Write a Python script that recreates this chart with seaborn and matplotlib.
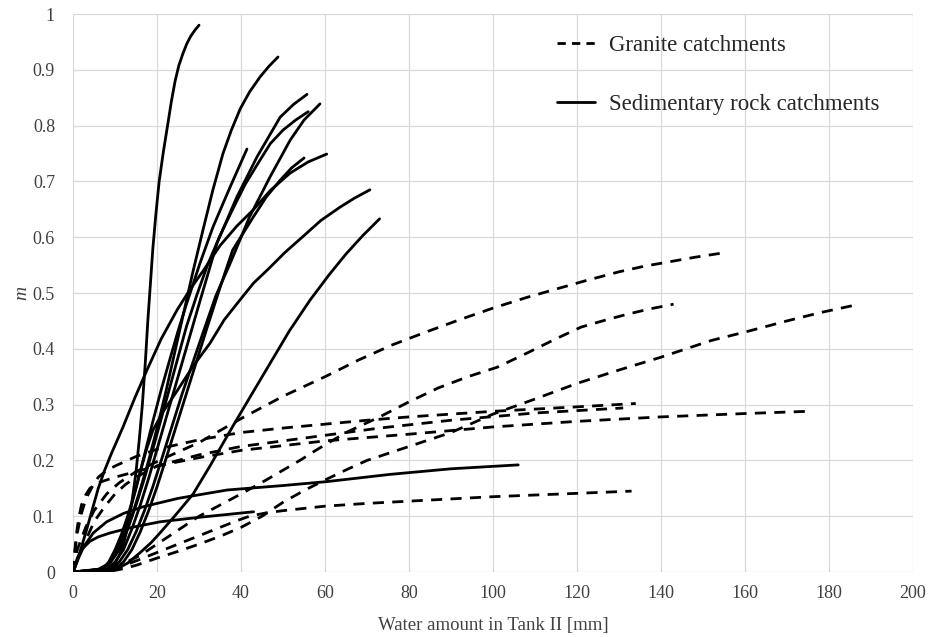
import matplotlib
matplotlib.use("Agg")
import matplotlib.pyplot as plt
import seaborn as sns
from matplotlib.lines import Line2D

# granite catchments (dashed)
gran_1_x = [0, 1, 3, 5, 8, 11, 15, 22, 30, 40, 50, 60, 68, 76, 84, 92, 100, 108, 115, 122, 130, 136, 142, 148, 154]
gran_1_m = [0, 0.04, 0.08, 0.11, 0.14, 0.16, 0.18, 0.205, 0.232, 0.275, 0.315, 0.35, 0.38, 0.407, 0.43, 0.452, 0.473, 0.492, 0.507, 0.522, 0.538, 0.548, 0.556, 0.564, 0.571]
gran_2_x = [0, 8, 12, 16, 20, 25, 30, 35, 40, 46, 54, 58, 65, 73, 80, 87, 94, 101, 108, 115, 121, 127, 132, 137, 143]
gran_2_m = [0, 0, 0.015, 0.03, 0.05, 0.075, 0.1, 0.12, 0.14, 0.165, 0.2, 0.219, 0.25, 0.278, 0.305, 0.33, 0.35, 0.367, 0.392, 0.418, 0.439, 0.452, 0.462, 0.471, 0.48]
gran_3_x = [0, 8, 12, 15, 20, 25, 30, 35, 40, 45, 50, 55, 60, 65, 70, 80, 90, 100, 110, 120, 130, 140, 152, 160, 170, 178, 186]
gran_3_m = [0, 0, 0.006, 0.012, 0.025, 0.037, 0.05, 0.064, 0.08, 0.1, 0.125, 0.146, 0.165, 0.183, 0.2, 0.225, 0.25, 0.283, 0.31, 0.338, 0.362, 0.385, 0.415, 0.43, 0.45, 0.465, 0.478]
gran_4_x = [0, 0.5, 1, 2, 3, 4.5, 6, 8, 10, 15, 20, 30, 40, 50, 60, 70, 80, 90, 100, 110, 120, 134]
gran_4_m = [0, 0.04, 0.07, 0.105, 0.13, 0.152, 0.17, 0.182, 0.19, 0.207, 0.22, 0.237, 0.25, 0.258, 0.265, 0.272, 0.278, 0.283, 0.288, 0.292, 0.296, 0.302]
gran_5_x = [0, 1, 2, 3.5, 5, 7.5, 10, 12.5, 15, 20, 25, 30, 40, 50, 60, 73, 90, 110, 131]
gran_5_m = [0, 0.02, 0.04, 0.065, 0.09, 0.117, 0.14, 0.157, 0.17, 0.19, 0.2, 0.21, 0.225, 0.235, 0.245, 0.258, 0.272, 0.285, 0.294]
gran_6_x = [0, 0.5, 1, 1.5, 2, 3, 4, 6, 10, 15, 20, 30, 40, 60, 80, 100, 120, 140, 160, 175]
gran_6_m = [0, 0.045, 0.08, 0.102, 0.12, 0.138, 0.15, 0.16, 0.17, 0.18, 0.19, 0.205, 0.218, 0.235, 0.247, 0.26, 0.27, 0.278, 0.284, 0.288]
gran_7_x = [0, 8, 11, 15, 20, 25, 30, 35, 39, 42, 46, 50, 60, 70, 80, 90, 100, 110, 120, 133]
gran_7_m = [0, 0, 0.008, 0.02, 0.035, 0.05, 0.065, 0.08, 0.092, 0.1, 0.106, 0.11, 0.118, 0.123, 0.127, 0.131, 0.135, 0.138, 0.141, 0.145]

# sedimentary rock catchments (solid)
sed_1_x = [0, 4, 8, 10, 11, 12, 13, 14, 15, 15.8, 16.5, 17.2, 17.8, 18.4, 19, 19.7, 20.5, 21.5, 22.5, 23.4, 24.3, 25.2, 26.2, 27.1, 28, 29, 30]
sed_1_m = [0, 0.001, 0.005, 0.016, 0.03, 0.05, 0.08, 0.125, 0.18, 0.24, 0.3, 0.375, 0.45, 0.515, 0.58, 0.64, 0.7, 0.753, 0.8, 0.843, 0.88, 0.908, 0.93, 0.947, 0.96, 0.971, 0.98]
sed_2_x = [0, 6, 8, 10, 12, 14, 16, 18, 20, 22, 25, 28.6, 31, 33.3, 35.7, 37.7, 39.8, 42, 44.5, 46.6, 48.8]
sed_2_m = [0, 0.005, 0.013, 0.03, 0.06, 0.1, 0.148, 0.2, 0.258, 0.32, 0.42, 0.54, 0.615, 0.685, 0.75, 0.792, 0.83, 0.86, 0.887, 0.906, 0.923]
sed_3_x = [0, 8, 10, 12, 14, 16, 18, 20, 22.5, 25, 27.5, 30, 34.3, 39, 43.8, 49.3, 52.5, 55.7]
sed_3_m = [0, 0.005, 0.018, 0.04, 0.077, 0.12, 0.168, 0.22, 0.285, 0.35, 0.415, 0.48, 0.59, 0.672, 0.744, 0.815, 0.838, 0.856]
sed_4_x = [0, 9, 11, 13, 15, 17, 19, 21, 23.5, 26, 28.5, 31, 34, 37.4, 42, 46.9, 51.7, 55, 58.8]
sed_4_m = [0, 0.005, 0.018, 0.04, 0.072, 0.11, 0.153, 0.2, 0.26, 0.32, 0.375, 0.43, 0.495, 0.553, 0.636, 0.708, 0.774, 0.81, 0.839]
sed_5_x = [0, 7, 9, 11, 13, 15, 17, 19, 21, 23, 25, 27, 29.5, 32, 35, 38, 41, 44.5, 47, 50, 53, 56]
sed_5_m = [0, 0.005, 0.018, 0.04, 0.077, 0.12, 0.168, 0.22, 0.275, 0.33, 0.385, 0.44, 0.497, 0.55, 0.603, 0.65, 0.695, 0.738, 0.768, 0.792, 0.81, 0.825]
sed_6_x = [0, 7, 9, 11, 13, 15, 17, 19, 21, 23, 25, 27, 30.2, 33.3, 35.4, 37.4, 39.4, 41.4]
sed_6_m = [0, 0.005, 0.02, 0.05, 0.095, 0.15, 0.21, 0.27, 0.327, 0.38, 0.432, 0.48, 0.553, 0.618, 0.655, 0.69, 0.724, 0.758]
sed_7_x = [0, 10, 12, 14, 16, 18, 20, 22, 24.5, 27, 29.5, 32, 35, 38, 42.9, 46, 49.3, 52, 55]
sed_7_m = [0, 0.005, 0.018, 0.04, 0.072, 0.11, 0.153, 0.2, 0.26, 0.32, 0.38, 0.44, 0.51, 0.577, 0.636, 0.672, 0.702, 0.724, 0.742]
sed_8_x = [0, 1, 2, 3, 4.5, 6, 7.5, 9, 11.9, 14.7, 17.6, 21, 24.8, 28, 31, 35, 39, 42.9, 47, 51.7, 56, 60.4]
sed_8_m = [0, 0.02, 0.045, 0.07, 0.11, 0.15, 0.182, 0.21, 0.26, 0.312, 0.362, 0.418, 0.47, 0.508, 0.54, 0.585, 0.62, 0.649, 0.684, 0.715, 0.735, 0.749]
sed_9_x = [0, 7, 8.5, 10, 11.5, 13, 14.5, 16, 17.5, 19, 21.5, 24.8, 28.5, 32.6, 36, 40, 43, 46.5, 50.5, 55, 59, 63.6, 67, 70.7]
sed_9_m = [0, 0.005, 0.018, 0.04, 0.067, 0.1, 0.138, 0.18, 0.22, 0.254, 0.288, 0.325, 0.368, 0.41, 0.452, 0.49, 0.518, 0.543, 0.573, 0.603, 0.63, 0.654, 0.67, 0.685]
sed_10_x = [0, 8, 10.5, 13, 16, 18.5, 20.7, 24.5, 28.6, 32.6, 38.1, 42.5, 47, 51.5, 56.4, 61, 65, 69, 73]
sed_10_m = [0, 0, 0.006, 0.016, 0.035, 0.052, 0.07, 0.103, 0.14, 0.19, 0.262, 0.318, 0.375, 0.432, 0.487, 0.533, 0.57, 0.603, 0.633]
sed_11_x = [0, 1, 2.5, 4.8, 8, 12, 16.7, 25, 36.7, 50, 60.4, 75.5, 90, 106]
sed_11_m = [0, 0.02, 0.045, 0.07, 0.09, 0.105, 0.117, 0.132, 0.147, 0.155, 0.162, 0.175, 0.185, 0.192]
sed_12_x = [0, 1, 2, 4, 6, 8.8, 14, 20.7, 30, 43]
sed_12_m = [0, 0.025, 0.04, 0.055, 0.063, 0.07, 0.08, 0.09, 0.098, 0.108]

granite = [(gran_1_x, gran_1_m), (gran_2_x, gran_2_m), (gran_3_x, gran_3_m),
           (gran_4_x, gran_4_m), (gran_5_x, gran_5_m), (gran_6_x, gran_6_m),
           (gran_7_x, gran_7_m)]
sediment = [(sed_1_x, sed_1_m), (sed_2_x, sed_2_m), (sed_3_x, sed_3_m),
            (sed_4_x, sed_4_m), (sed_5_x, sed_5_m), (sed_6_x, sed_6_m),
            (sed_7_x, sed_7_m), (sed_8_x, sed_8_m), (sed_9_x, sed_9_m),
            (sed_10_x, sed_10_m), (sed_11_x, sed_11_m), (sed_12_x, sed_12_m)]

sns.set_theme(style="whitegrid")
plt.rcParams['font.family'] = ['Liberation Serif', 'DejaVu Serif']

fig = plt.figure(figsize=(9.49, 6.37), dpi=100)
ax = fig.add_axes([0.077, 0.102, 0.885, 0.876])

for gx, gm in granite:
    sns.lineplot(x=gx, y=gm, ax=ax, color='black', linewidth=2.0,
                 estimator=None, sort=False)
    ax.lines[-1].set_dashes((4, 3))
for sx, sm in sediment:
    sns.lineplot(x=sx, y=sm, ax=ax, color='black', linewidth=2.0,
                 estimator=None, sort=False)

ax.set_xlim(0, 200)
ax.set_ylim(0, 1)
ax.set_xticks(range(0, 201, 20))
ax.set_yticks([i / 10 for i in range(11)])
ax.set_yticklabels(['0', '0.1', '0.2', '0.3', '0.4', '0.5', '0.6', '0.7', '0.8', '0.9', '1'])
ax.grid(True, color='#d9d9d9', linewidth=0.9)
for s in ax.spines.values():
    s.set_visible(False)
ax.tick_params(axis='both', labelsize=13, colors='#404040', length=0)
ax.tick_params(axis='x', pad=9)
ax.tick_params(axis='y', pad=13)
ax.set_xlabel('Water amount in Tank II [mm]', fontsize=13.5, color='#404040', labelpad=11)
ax.set_ylabel('m', fontsize=14, color='#404040', style='italic', labelpad=2)

handles = [Line2D([0], [0], color='black', lw=2.0, dashes=(3, 2.2)),
           Line2D([0], [0], color='black', lw=2.0)]
ax.legend(handles, ['Granite catchments', 'Sedimentary rock catchments'],
          loc='upper right', bbox_to_anchor=(0.985, 1.0), frameon=False,
          fontsize=16.5, labelspacing=1.65, handlelength=1.7, handletextpad=0.6)

fig.savefig('out.png', dpi=100)
